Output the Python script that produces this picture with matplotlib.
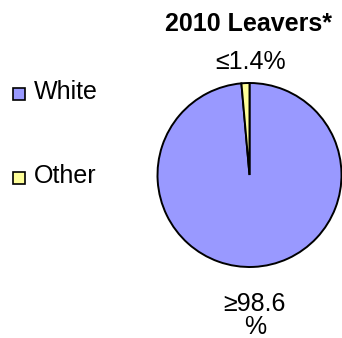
import matplotlib
matplotlib.use("Agg")
import matplotlib.pyplot as plt
from matplotlib.patches import Rectangle

plt.rcParams['font.family'] = ['Liberation Sans', 'DejaVu Sans']

# Data
categories = ["White", "Other"]
shares = [98.6, 1.4]
value_labels = ["\u226598.6\n%", "\u22641.4%"]
colors = ["#9999FF", "#FFFF99"]
title = "2010 Leavers*"

W, H = 342, 338
fig = plt.figure(figsize=(W / 100, H / 100), dpi=100)


def fx(x):
    return x / W


def fy(y):
    return 1 - y / H


# Pie, centred at (249.5, 175) px with a 92 px radius
cx, cy, r = 249.5, 175, 92
ax = fig.add_axes([fx(cx - r), fy(cy + r), 2 * r / W, 2 * r / H])
wedges, _ = ax.pie(shares, colors=colors, startangle=90, counterclock=False,
                   radius=1, wedgeprops=dict(edgecolor="black", linewidth=1.4))
for w in wedges:
    w.set_clip_on(False)
ax.set_xlim(-1, 1)
ax.set_ylim(-1, 1)
ax.set_aspect("auto")
ax.axis("off")

fs = 18
fig.text(fx(248.5), fy(31), title, ha="center", va="baseline",
         fontsize=fs, fontweight="bold")
fig.text(fx(251), fy(69), value_labels[1], ha="center", va="baseline", fontsize=fs)
lines = value_labels[0].split("\n")
fig.text(fx(254), fy(311), lines[0], ha="center", va="baseline", fontsize=fs)
fig.text(fx(255), fy(334), lines[1], ha="center", va="baseline", fontsize=fs)

# Legend
legend_rows = [99, 183]
for cat, col, base in zip(categories, colors, legend_rows):
    fig.patches.append(Rectangle((fx(13), fy(base + 1)), 12 / W, 12 / H,
                                 transform=fig.transFigure, facecolor=col,
                                 edgecolor="black", linewidth=1.2))
    fig.text(fx(34), fy(base), cat, ha="left", va="baseline", fontsize=fs)

fig.savefig("out.png", dpi=100)
